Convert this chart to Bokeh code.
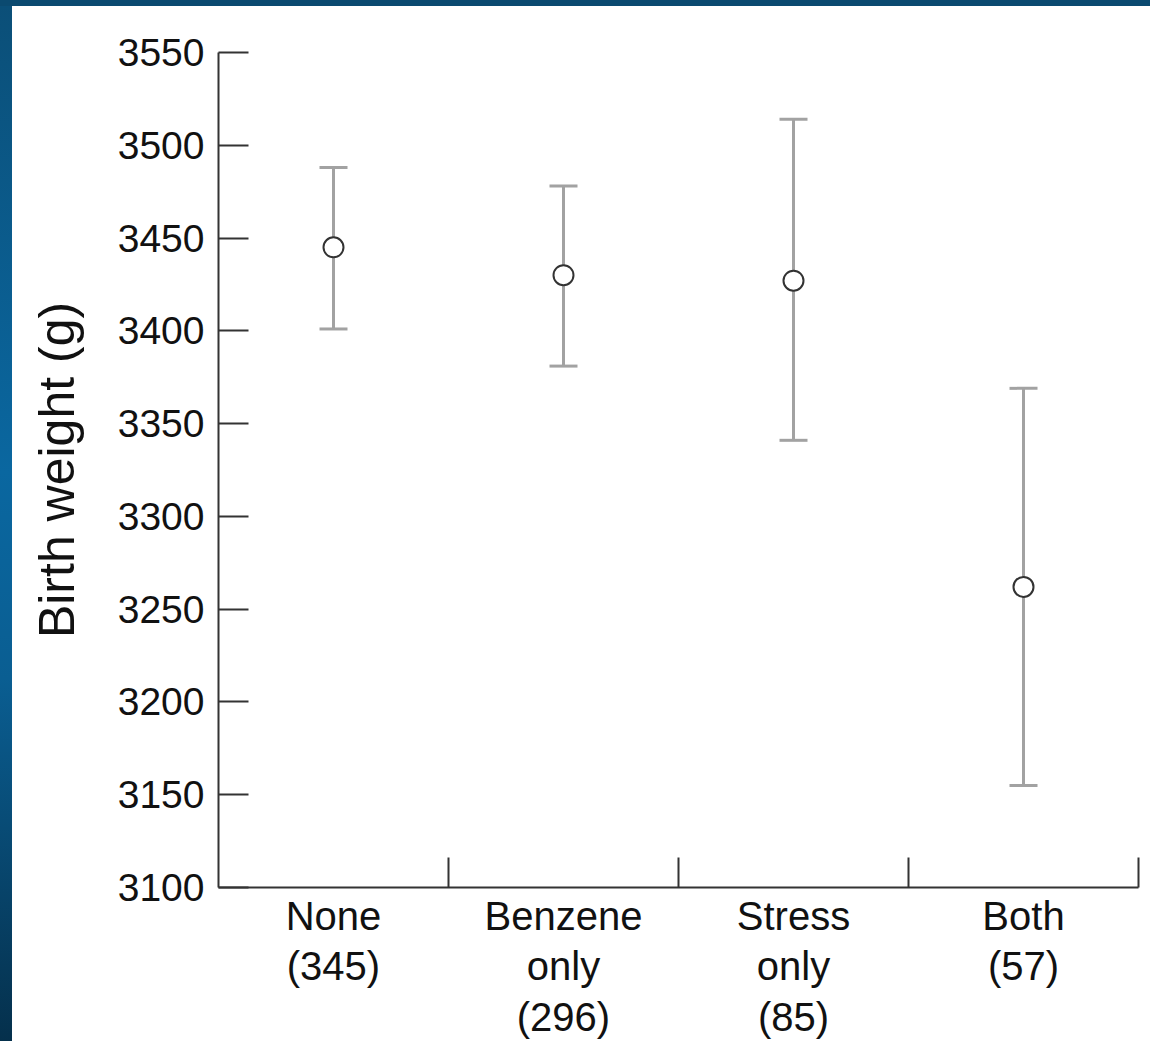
from bokeh.plotting import figure
from bokeh.models import ColumnDataSource, Whisker, TeeHead, FixedTicker, Range1d, Div
from bokeh.layouts import column, row
from bokeh.embed import file_html
from bokeh.resources import INLINE

groups = ["None\n(345)", "Benzene\nonly\n(296)", "Stress\nonly\n(85)", "Both\n(57)"]
means = [3445, 3430, 3427, 3262]
upper = [3488, 3478, 3514, 3369]
lower = [3401, 3381, 3341, 3155]
yticks = [3100, 3150, 3200, 3250, 3300, 3350, 3400, 3450, 3500, 3550]

xpos = [i + 0.5 for i in range(len(groups))]
src = ColumnDataSource(dict(x=xpos, m=means, u=upper, l=lower))

FONT = "Liberation Sans"
AX = "#333333"
BAR = "#a2a2a2"

p = figure(width=1138, height=1035, output_backend="svg", toolbar_location=None,
           x_range=Range1d(0, len(groups)), y_range=Range1d(yticks[0], yticks[-1]),
           min_border_left=206, min_border_right=12, min_border_top=46, min_border_bottom=147,
           margin=(0, 0, 0, 0))
p.outline_line_color = None
p.grid.visible = False
p.background_fill_color = "white"
p.border_fill_color = "white"

w = Whisker(base="x", upper="u", lower="l", source=src, line_color=BAR, line_width=3,
            upper_head=TeeHead(size=28, line_color=BAR, line_width=3),
            lower_head=TeeHead(size=28, line_color=BAR, line_width=3))
p.add_layout(w)
p.scatter("x", "m", source=src, size=20, fill_color="white", line_color=AX, line_width=2)

# y axis
ya = p.yaxis[0]
ya.ticker = FixedTicker(ticks=yticks)
ya.axis_line_color = AX
ya.axis_line_width = 2
ya.major_tick_line_color = AX
ya.major_tick_line_width = 2
ya.major_tick_in = 30
ya.major_tick_out = 0
ya.minor_tick_line_color = None
ya.major_label_text_font = FONT
ya.major_label_text_font_size = "39px"
ya.major_label_text_color = "#111111"
ya.major_label_standoff = 14
ya.axis_label = "Birth weight (g)"
ya.axis_label_text_font = FONT
ya.axis_label_text_font_size = "50px"
ya.axis_label_text_font_style = "normal"
ya.axis_label_text_color = "#111111"
ya.axis_label_standoff = 30

# x axis
xa = p.xaxis[0]
xa.ticker = FixedTicker(ticks=xpos, minor_ticks=[i + 1 for i in range(len(groups))])
xa.major_label_overrides = {x: g for x, g in zip(xpos, groups)}
xa.axis_line_color = AX
xa.axis_line_width = 2
xa.major_tick_line_color = None
xa.major_tick_in = 0
xa.major_tick_out = 0
xa.minor_tick_line_color = AX
xa.minor_tick_line_width = 2
xa.minor_tick_in = 30
xa.minor_tick_out = 0
xa.major_label_text_font = FONT
xa.major_label_text_font_size = "40px"
xa.major_label_text_color = "#111111"
xa.major_label_text_line_height = 1.15
xa.major_label_standoff = 6

top_strip = Div(width=1150, height=6, margin=(0, 0, 0, 0), styles={"background": "#0b4a70"})
left_strip = Div(width=12, height=1035, margin=(0, 0, 0, 0),
                 styles={"background": "linear-gradient(#0b4f78, #0a67a0 45%, #0a5e92 65%, #05304c)"})
layout = column(top_strip, row(left_strip, p, spacing=0, margin=(0, 0, 0, 0)),
                spacing=0, margin=(0, 0, 0, 0))

open("out.html", "w").write(file_html(layout, INLINE))
